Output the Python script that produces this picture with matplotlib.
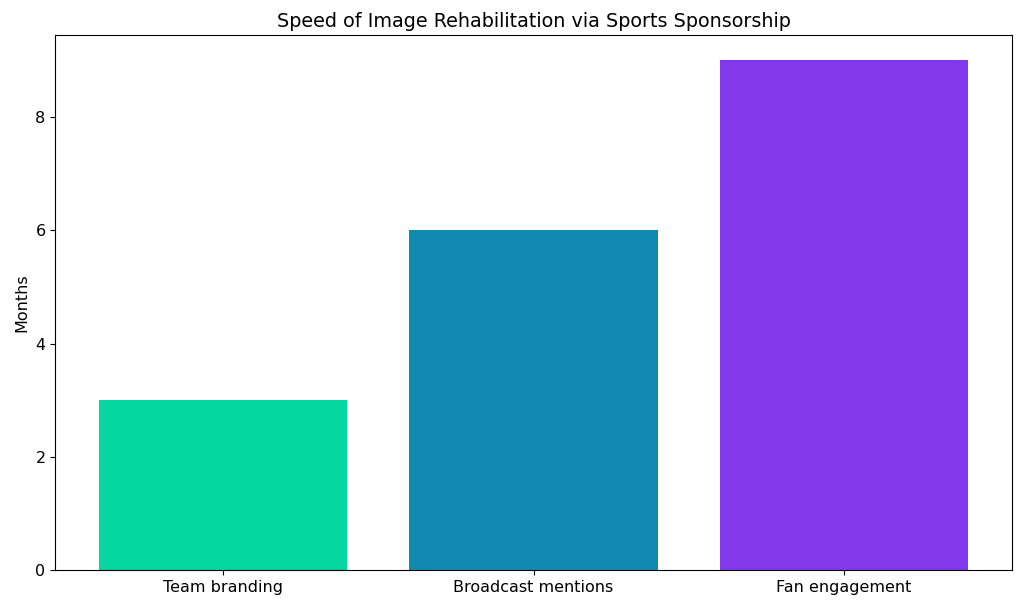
import matplotlib
matplotlib.use("Agg")
import matplotlib.pyplot as plt

plt.rcParams['font.size'] = 11.5

# Datos del grafico
categorias = ['Team branding', 'Broadcast mentions', 'Fan engagement']
meses = [3, 6, 9]
colores = ['#06D6A0', '#118AB2', '#8338EC']

fig, ax = plt.subplots(figsize=(10.24, 6.09), dpi=100)
ax.bar(categorias, meses, color=colores)
ax.set_title('Speed of Image Rehabilitation via Sports Sponsorship')
ax.set_ylabel('Months')
fig.subplots_adjust(left=0.054, right=0.988, top=0.9425, bottom=0.064)
plt.savefig('out.png', dpi=100)
